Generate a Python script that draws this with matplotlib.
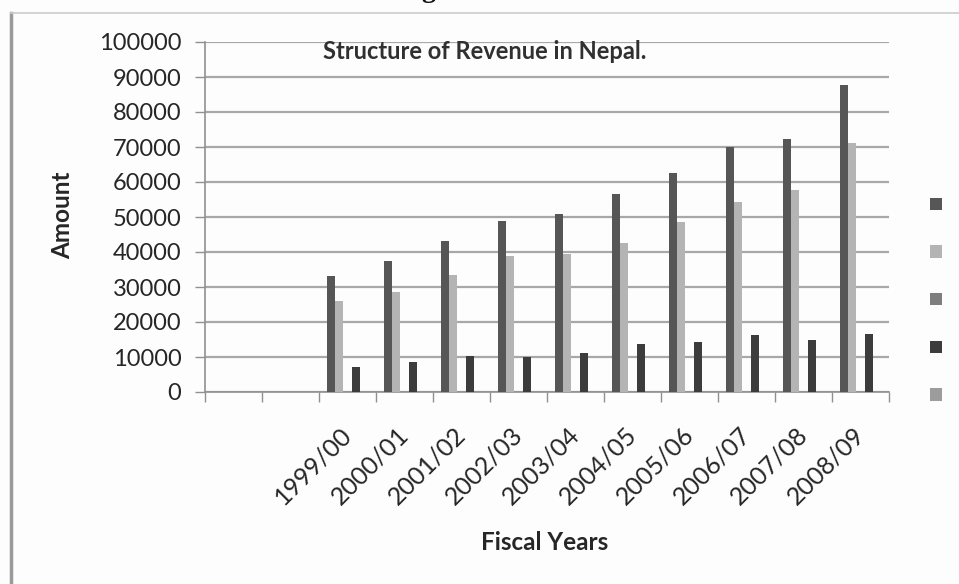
import matplotlib
matplotlib.use("Agg")
import matplotlib.pyplot as plt
from matplotlib.lines import Line2D
import numpy as np

plt.rcParams["font.family"] = ["Lato", "DejaVu Sans"]

# fiscal years (two blank slots lead the category axis)
categories = ["", "", "1999/00", "2000/01", "2001/02", "2002/03", "2003/04",
              "2004/05", "2005/06", "2006/07", "2007/08", "2008/09"]

# revenue series, Rs. million
total_revenue = [np.nan, np.nan, 33150, 37500, 43100, 48900, 50800,
                 56600, 62500, 70100, 72200, 87700]
tax_revenue = [np.nan, np.nan, 25900, 28700, 33400, 38900, 39300,
               42500, 48500, 54400, 57700, 71100]
grants = [np.nan, np.nan, 0, 0, 0, 0, 0, 0, 0, 0, 0, 0]
non_tax_revenue = [np.nan, np.nan, 7200, 8700, 10300, 10000, 11200,
                   13600, 14400, 16300, 15000, 16600]
others = [np.nan, np.nan, 0, 0, 0, 0, 0, 0, 0, 0, 0, 0]

series = [total_revenue, tax_revenue, grants, non_tax_revenue, others]
colors = ["#565656", "#b4b4b4", "#7e7e7e", "#3c3c3c", "#9c9c9c"]

W, H = 959, 584
fig = plt.figure(figsize=(W / 100, H / 100), dpi=100)
fig.patch.set_facecolor("#fdfdfd")

left, right, top, bottom = 205, 889, 42, 392
ax = fig.add_axes([left / W, 1 - bottom / H, (right - left) / W, (bottom - top) / H])
ax.set_facecolor("#fdfdfd")

x = np.arange(len(categories)) + 0.5
width = 0.147
bars = []
for i, (vals, col) in enumerate(zip(series, colors)):
    b = ax.bar(x + (i - 2) * width, vals, width=width, color=col,
               linewidth=0, zorder=3)
    bars.append(b)

ax.set_xlim(0, len(categories))
ax.set_ylim(0, 100000)
ax.set_yticks(np.arange(0, 100001, 10000))
ax.set_yticklabels([str(v) for v in range(0, 100001, 10000)])
ax.yaxis.grid(True, color="#a8a8a8", linewidth=1.6, zorder=0)
ax.set_axisbelow(True)

ax.set_xticks(np.arange(0, len(categories) + 1), minor=False)
ax.set_xticklabels([])
ax.set_xticks(x, minor=True)
ax.set_xticklabels(categories, minor=True, rotation=45, ha="right",
                   va="center", rotation_mode="anchor")
ax.tick_params(axis="x", which="major", length=7, color="#909090", width=1)
ax.tick_params(axis="x", which="minor", length=0, pad=28, labelsize=18,
               labelcolor="#262626")
ax.tick_params(axis="y", length=7, color="#909090", width=1, labelsize=17,
               labelcolor="#262626", pad=10)

for s in ("top", "right"):
    ax.spines[s].set_visible(False)
for s in ("left", "bottom"):
    ax.spines[s].set_color("#909090")
    ax.spines[s].set_linewidth(1.2)

# chart title inside the plot area
fig.text(323 / W, 1 - 40 / H, "Structure of Revenue in Nepal.", ha="left",
         va="top", fontsize=17, fontweight="bold", color="#303030")

fig.text(63 / W, 1 - 215 / H, "Amount", rotation=90, ha="center",
         va="center", fontsize=17.5, fontweight="bold", color="#262626")
fig.text(545 / W, 1 - 543 / H, "Fiscal Years", ha="center", va="center",
         fontsize=17.5, fontweight="bold", color="#262626")

# legend: swatches only
fig.legend(bars, [""] * 5, loc="center", bbox_to_anchor=(936 / W, 1 - 300 / H),
           frameon=False, handlelength=0.75, handleheight=0.75,
           labelspacing=1.9, handletextpad=0.0, fontsize=12)

# outer frame of the chart object
fig.add_artist(Line2D([11 / W, 11 / W], [0, 1 - 13 / H], color="#9a9a9a",
                      linewidth=2.5, transform=fig.transFigure))
fig.add_artist(Line2D([11 / W, 1], [1 - 13 / H, 1 - 13 / H], color="#cccccc",
                      linewidth=1.2, transform=fig.transFigure))

# caption descender above the frame
fig.text(428 / W, 1 + 3 / H, "g", ha="center", va="baseline", fontsize=20,
         fontweight="bold", family="Liberation Serif", color="#111111")

fig.savefig("out.png", dpi=100, facecolor=fig.get_facecolor())
